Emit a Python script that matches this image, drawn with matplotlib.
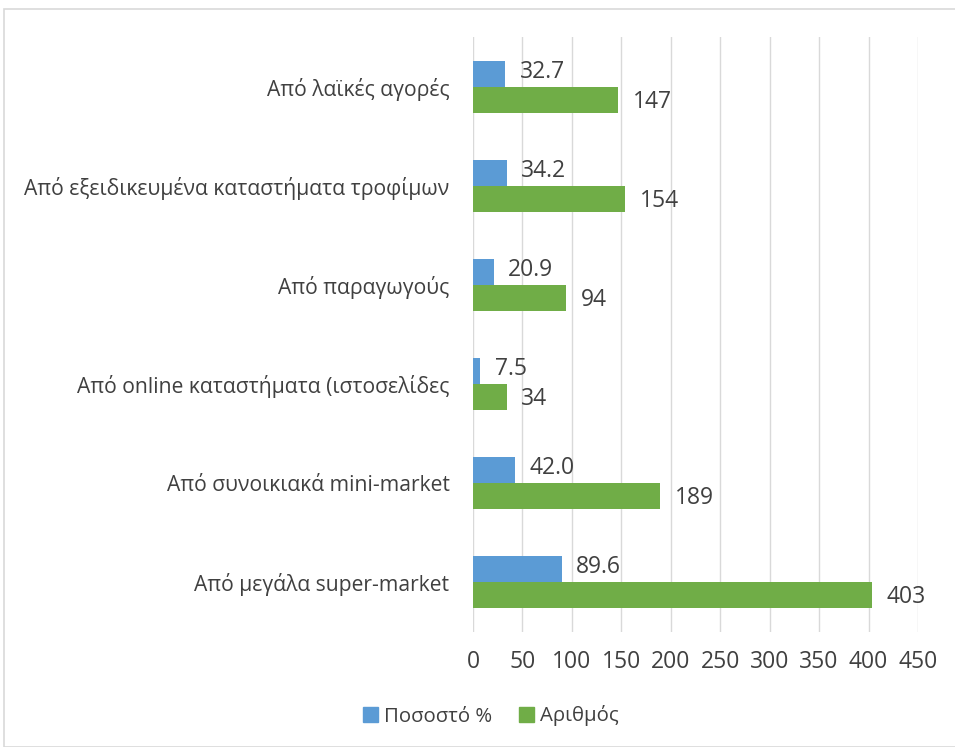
import matplotlib
matplotlib.use("Agg")
import matplotlib.pyplot as plt
from matplotlib.patches import Rectangle, Patch
import numpy as np

categories = ["Από μεγάλα super-market", "Από συνοικιακά mini-market",
              "Από online καταστήματα (ιστοσελίδες", "Από παραγωγούς",
              "Από εξειδικευμένα καταστήματα τροφίμων", "Από λαϊκές αγορές"]
percent = [89.6, 42.0, 7.5, 20.9, 34.2, 32.7]
count = [403, 189, 34, 94, 154, 147]
xticks = [0, 50, 100, 150, 200, 250, 300, 350, 400, 450]

plt.rcParams['font.family'] = ['Open Sans', 'DejaVu Sans']
txt = '#404040'
blue = '#5b9bd5'
green = '#70ad47'

fig = plt.figure(figsize=(9.55, 7.47), dpi=100)
fig.patches.append(Rectangle((4/955, 0), 1.2, (747-9)/747, transform=fig.transFigure,
                             fill=False, edgecolor='#d9d9d9', linewidth=1.2))
ax = fig.add_axes([473/955, 1-632/747, (918-473)/955, (632-37)/747])

y = np.arange(len(categories))
h = 0.263
ax.barh(y + h/2, percent, height=h, color=blue, label='Ποσοστό %')
ax.barh(y - h/2, count, height=h, color=green, label='Αριθμός')
for yi, v in zip(y, percent):
    ax.annotate(f"{v:.1f}", (v, yi + h/2 + 0.02), xytext=(10.5, 0), textcoords='offset points',
                va='center', ha='left', fontsize=16.5, color=txt)
for yi, v in zip(y, count):
    ax.annotate(f"{v}", (v, yi - h/2 - 0.02), xytext=(10.5, 0), textcoords='offset points',
                va='center', ha='left', fontsize=16.5, color=txt)

ax.set_xlim(0, 450)
ax.set_ylim(-0.5, len(categories) - 0.5)
ax.set_xticks(xticks)
ax.set_yticks(y)
ax.set_yticklabels(categories, fontsize=15.2)
ax.tick_params(axis='x', length=0, labelsize=16.5, colors=txt, pad=13)
ax.tick_params(axis='y', length=0, colors=txt, pad=17)
ax.grid(axis='x', color='#d9d9d9', linewidth=1)
ax.set_axisbelow(True)
for s in ax.spines.values():
    s.set_visible(False)

fig.legend(handles=[Patch(color=blue, label='Ποσοστό %'), Patch(color=green, label='Αριθμός')],
           loc='center', bbox_to_anchor=(491/955, 1-716/747), ncol=2, frameon=False,
           fontsize=14.7, labelcolor=txt, handlelength=0.75, handleheight=0.75,
           handletextpad=0.3, columnspacing=1.3)

fig.savefig('out.png', dpi=100)
